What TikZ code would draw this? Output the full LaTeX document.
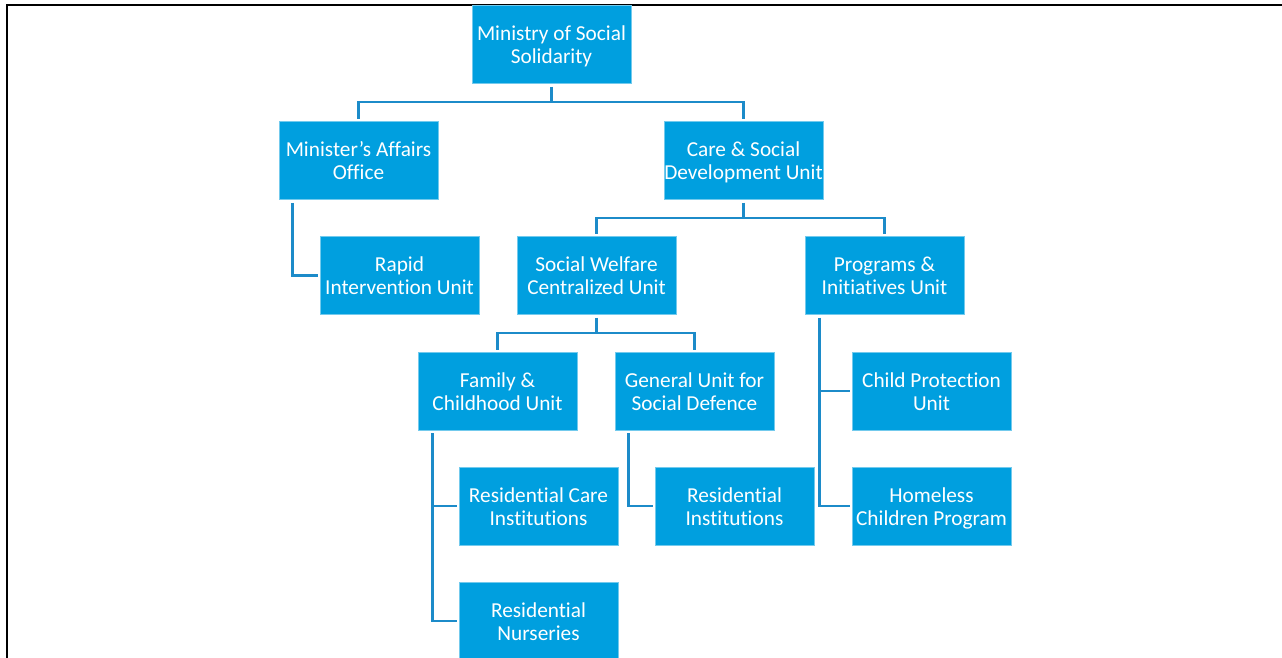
\documentclass[tikz,border=0pt]{standalone}
\usepackage{fontspec}
\setmainfont{Carlito}[Ligatures={NoCommon}]
\usetikzlibrary{calc}
\definecolor{boxblue}{HTML}{009FDF}
\definecolor{lineblue}{HTML}{1C8BC9}
\newcommand{\twolines}[2]{\rule{0pt}{21.5pt}#1\\#2\rule[-6pt]{0pt}{0pt}}
\begin{document}
\begin{tikzpicture}[x=1pt,y=-1pt,
  unit/.style={fill=boxblue, draw=boxblue!55!white, line width=0.8pt,
    minimum width=159pt, minimum height=78pt, align=center, text=white,
    font=\fontsize{21.3}{23.3}\selectfont, inner sep=0pt},
  link/.style={draw=lineblue, line width=2.6pt, shorten <=3pt, shorten >=2pt},
  frameline/.style={draw=black, line width=2.2pt}]
\useasboundingbox (0,0) rectangle (1282,658);
\draw[frameline] (7,660) -- (7,5) -- (1284,5);

\node[unit] (ministry)  at (551.5,44.5) {\twolines{Ministry of Social}{Solidarity}};
\node[unit] (minister)  at (358.5,160.5) {\twolines{Minister’s Affairs}{Office}};
\node[unit] (care)      at (743.5,160.5) {\twolines{Care \& Social}{Development Unit}};
\node[unit] (rapid)     at (399.5,275.5) {\twolines{Rapid}{Intervention Unit}};
\node[unit] (welfare)   at (596.5,275.5) {\twolines{Social Welfare}{Centralized Unit}};
\node[unit] (programs)  at (884.5,275.5) {\twolines{Programs \&}{Initiatives Unit}};
\node[unit] (family)    at (497.5,391) {\twolines{Family \&}{Childhood Unit}};
\node[unit] (general)   at (694.5,391) {\twolines{General Unit for}{Social Defence}};
\node[unit] (child)     at (931.5,391) {\twolines{Child Protection}{Unit}};
\node[unit] (rescare)   at (538.5,506) {\twolines{Residential Care}{Institutions}};
\node[unit] (resinst)   at (734.5,506) {\twolines{Residential}{Institutions}};
\node[unit] (homeless)  at (931.5,506) {\twolines{Homeless}{Children Program}};
\node[unit] (nurseries) at (538.5,621) {\twolines{Residential}{Nurseries}};

\draw[link] (ministry.south) -- ++(0,18) -| (minister.north);
\draw[link] (ministry.south) -- ++(0,18) -| (care.north);
\draw[link] (care.south) -- ++(0,18) -| (welfare.north);
\draw[link] (care.south) -- ++(0,18) -| (programs.north);
\draw[link] (welfare.south) -- ++(0,18) -| (family.north);
\draw[link] (welfare.south) -- ++(0,18) -| (general.north);

\draw[link] ($(minister.south west)+(14,0)$) |- (rapid.west);
\draw[link] ($(programs.south west)+(15,0)$) |- (child.west);
\draw[link] ($(programs.south west)+(15,0)$) |- (homeless.west);
\draw[link] ($(family.south west)+(15,0)$) |- (rescare.west);
\draw[link] ($(family.south west)+(15,0)$) |- (nurseries.west);
\draw[link] ($(general.south west)+(14,0)$) |- (resinst.west);
\end{tikzpicture}
\end{document}
